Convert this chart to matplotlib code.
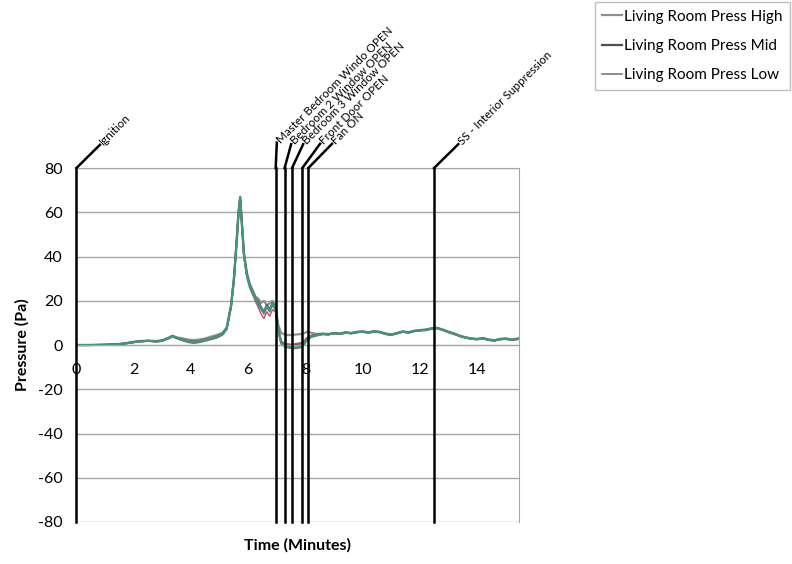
import matplotlib
matplotlib.use('Agg')
import matplotlib.pyplot as plt
import numpy as np

plt.rcParams['font.family'] = ['Lato', 'DejaVu Sans']
plt.rcParams['axes.unicode_minus'] = False

# time in minutes
time_min = [0, 0.5, 1.0, 1.5, 1.8, 2.0, 2.2, 2.5, 2.8, 3.0,
            3.2, 3.35, 3.5, 3.7, 3.9, 4.1, 4.3, 4.5, 4.7, 4.9,
            5.1, 5.25, 5.4, 5.5, 5.6, 5.66, 5.72, 5.78, 5.85, 5.95,
            6.05, 6.15, 6.25, 6.35, 6.45, 6.55, 6.65, 6.75, 6.85, 6.95,
            7.05, 7.15, 7.3, 7.5, 7.7, 7.9, 8.05, 8.2, 8.4, 8.6,
            8.8, 9.0, 9.2, 9.4, 9.6, 9.8, 10.0, 10.2, 10.4, 10.6,
            10.8, 11.0, 11.2, 11.4, 11.6, 11.8, 12.0, 12.2, 12.4, 12.6,
            12.8, 13.0, 13.2, 13.4, 13.6, 13.8, 14.0, 14.2, 14.4, 14.6,
            14.8, 15.0, 15.2, 15.45]

press_high = [0, 0, 0.2, 0.5, 1.0, 1.5, 1.8, 2.0, 1.8, 2.2,
              3.2, 4.2, 3.5, 3.0, 2.5, 2.2, 2.5, 3.0, 3.8, 4.5,
              5.5, 8, 18, 30, 48, 60, 67, 55, 42, 33,
              28, 25, 22, 21, 19, 20, 18, 19, 20, 18,
              9, 5.5, 4.5, 4.5, 4.8, 5.0, 6.0, 5.5, 5.0, 5.2,
              5.0, 5.5, 5.2, 5.8, 5.5, 6.0, 6.2, 5.8, 6.3, 6.0,
              5.2, 4.8, 5.5, 6.2, 5.8, 6.5, 6.8, 7.0, 7.6, 7.8,
              7.0, 6.0, 5.2, 4.2, 3.5, 3.0, 2.8, 3.2, 2.5, 2.2,
              2.8, 3.0, 2.5, 3.0]

press_mid = [0, 0, 0.1, 0.4, 0.9, 1.3, 1.6, 1.9, 1.6, 2.0,
             3.0, 4.0, 3.2, 2.4, 1.7, 1.4, 1.8, 2.3, 3.0, 3.8,
             5.0, 7.5, 17.5, 29.5, 47.5, 59.5, 66.5, 54.5, 41, 32,
             27, 24, 21, 19.5, 17, 15, 18, 16, 19, 17,
             7, 1.5, 0.3, 0.0, 0.5, 0.8, 3.0, 4.2, 4.6, 5.0,
             4.8, 5.3, 5.0, 5.6, 5.3, 5.8, 6.0, 5.6, 6.1, 5.8,
             5.0, 4.6, 5.3, 6.0, 5.6, 6.3, 6.6, 6.8, 7.4, 7.6,
             6.8, 5.8, 5.0, 4.0, 3.3, 2.8, 2.6, 3.0, 2.3, 2.0,
             2.6, 2.8, 2.3, 2.8]

press_low = [0, 0, 0.1, 0.3, 0.8, 1.2, 1.5, 1.8, 1.5, 1.8,
             2.8, 3.8, 3.0, 2.0, 1.2, 0.8, 1.2, 1.8, 2.5, 3.2,
             4.5, 7, 17, 29, 47, 59, 66, 54, 40, 31,
             26, 23, 20, 18, 16, 14, 17, 15, 18, 16,
             6, 0.5, -1.0, -1.5, -1.5, -1.0, 2.0, 3.5, 4.2, 4.8,
             4.7, 5.2, 4.9, 5.5, 5.2, 5.7, 5.9, 5.5, 6.0, 5.7,
             4.9, 4.5, 5.2, 5.9, 5.5, 6.2, 6.5, 6.7, 7.3, 7.5,
             6.7, 5.7, 4.9, 3.9, 3.2, 2.7, 2.5, 2.9, 2.2, 1.9,
             2.5, 2.7, 2.2, 2.7]

# other living room sensors shown in colour, not listed in the legend
press_other_a = [0, 0, 0.1, 0.4, 0.9, 1.3, 1.6, 1.9, 1.6, 2.0,
                 3.0, 4.0, 3.2, 2.5, 1.8, 1.5, 1.8, 2.4, 3.1, 3.9,
                 5.0, 7.5, 17.5, 29.5, 47.5, 59.5, 67, 55, 41, 32,
                 27, 24, 21, 19, 17, 15.5, 17.5, 16, 19, 17,
                 7, 1, -0.5, -1.0, -1.0, -0.5, 2.5, 3.8, 4.5, 5.0,
                 4.8, 5.4, 5.0, 5.6, 5.4, 5.9, 6.1, 5.6, 6.2, 5.9,
                 5.1, 4.7, 5.4, 6.1, 5.7, 6.4, 6.7, 6.9, 7.5, 7.7,
                 6.9, 5.9, 5.1, 4.1, 3.4, 2.9, 2.7, 3.1, 2.4, 2.1,
                 2.7, 2.9, 2.4, 2.9]
press_other_b = [0, 0, 0.1, 0.4, 0.9, 1.3, 1.6, 1.9, 1.6, 2.0,
                 3.0, 4.0, 3.2, 2.4, 1.7, 1.4, 1.8, 2.3, 3.0, 3.8,
                 5.0, 7.5, 17.5, 29.5, 47.5, 59.5, 66.5, 54.5, 41, 32,
                 27, 24, 20, 17, 14, 12, 15, 13, 16, 15,
                 6, 1.0, 0.5, 0.3, 0.6, 1.0, 3.0, 4.2, 4.6, 5.0,
                 4.8, 5.3, 5.0, 5.6, 5.3, 5.8, 6.0, 5.6, 6.1, 5.8,
                 5.0, 4.6, 5.3, 6.0, 5.6, 6.3, 6.6, 6.8, 7.4, 7.6,
                 6.8, 5.8, 5.0, 4.0, 3.3, 2.8, 2.6, 3.0, 2.3, 2.0,
                 2.6, 2.8, 2.3, 2.8]

event_times = [0, 6.96, 7.27, 7.53, 7.89, 8.10, 12.49]
event_labels = ['Ignition', 'Master Bedroom Windo OPEN', 'Bedroom 2 Window OPEN',
                'Bedroom 3 Window OPEN', 'Front Door OPEN', 'Fan ON',
                'SS - Interior Suppression']
label_x = [0.82, 7.0, 7.5, 7.92, 8.51, 8.93, 13.34]
label_y = [90.5, 91.5, 90.8, 90.8, 91.0, 91.0, 90.8]

fig = plt.figure(figsize=(7.92, 5.64), dpi=100)
ax = fig.add_axes([0.0965, 0.0745, 0.5585, 0.6275])

ax.plot(time_min, press_high, color='#8f8f8f', lw=1.6, label='Living Room Press High')
ax.plot(time_min, press_mid, color='#505050', lw=1.6, label='Living Room Press Mid')
ax.plot(time_min, press_low, color='#7a7a7a', lw=1.2, label='Living Room Press Low')
ax.plot(time_min, press_other_b, color='#c0506a', lw=1.0, label='_nolegend_')
ax.plot(time_min, press_other_a, color='#3a9a80', lw=1.4, label='_nolegend_')

ax.set_xlim(0, 15.45)
ax.set_ylim(-80, 80)
ax.set_yticks(np.arange(-80, 81, 20))
ax.set_xticks(np.arange(0, 15, 2))
ax.grid(axis='y', color='#a6a6a6', lw=1.0)
ax.set_axisbelow(True)

for s in ['top', 'right']:
    ax.spines[s].set_color('#a6a6a6')
ax.spines['left'].set_visible(False)
ax.spines['bottom'].set_position(('data', 0))
ax.spines['bottom'].set_color('#a6a6a6')
ax.tick_params(axis='both', length=0, labelsize=11.5)
ax.tick_params(axis='x', pad=13)
ax.tick_params(axis='y', pad=10)

ax.set_xlabel('Time (Minutes)', fontsize=11.5, fontweight='bold')
ax.set_ylabel('Pressure (Pa)', fontsize=11.5, fontweight='bold', labelpad=6)
ax.xaxis.set_label_coords(0.5, -0.045)

for t, lab, lx, ly in zip(event_times, event_labels, label_x, label_y):
    ax.plot([t, t], [-80, 80], color='black', lw=1.8, clip_on=False, zorder=5)
    ax.plot([t, lx], [80, ly], color='black', lw=1.8, clip_on=False, zorder=5)
    ax.text(lx + 0.05, ly + 0.6, lab, rotation=45, rotation_mode='anchor',
            ha='left', va='center', fontsize=8.4)

leg = fig.legend(loc='upper right', bbox_to_anchor=(0.999, 0.999), fontsize=11,
                 frameon=True, fancybox=False, edgecolor='#b0b0b0',
                 handlelength=1.3, handletextpad=0.1, borderpad=0.5,
                 labelspacing=1.0, borderaxespad=0.1)

plt.savefig('out.png', dpi=100)
plt.close()
